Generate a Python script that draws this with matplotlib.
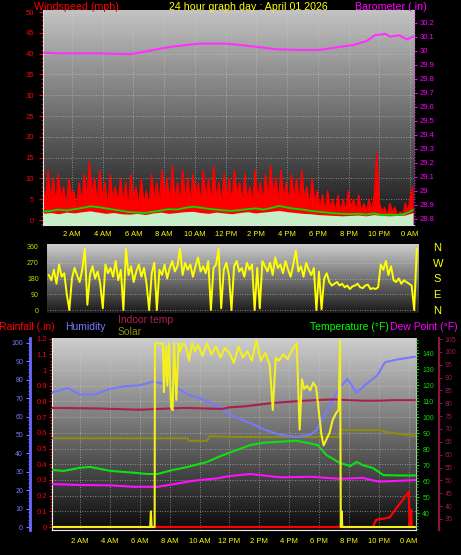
import numpy as np
import matplotlib
matplotlib.use('Agg')
import matplotlib.pyplot as plt
from matplotlib.ticker import MultipleLocator, FuncFormatter

plt.rcParams['font.family'] = ['Liberation Sans', 'DejaVu Sans']

W, H = 461, 555

hour_ticks = [2, 4, 6, 8, 10, 12, 14, 16, 18, 20, 22, 24]
hour_labels = ['2 AM', '4 AM', '6 AM', '8 AM', '10 AM', '12 PM',
               '2 PM', '4 PM', '6 PM', '8 PM', '10 PM', '0 AM']

# wind gust (mph), one value every 10 minutes
gust = [9, 4, 12, 5, 10, 4,  11, 5, 8, 3, 10, 6,  7, 3, 9, 4, 11, 5,
        14, 6, 10, 4, 12, 5,  9, 3, 11, 5, 8, 4,  10, 4, 9, 3, 11, 5,
        8, 3, 10, 4, 7, 3,  11, 5, 9, 4, 12, 6,  10, 4, 13, 5, 9, 4,
        12, 5, 10, 4, 11, 6,  9, 4, 12, 5, 10, 4,  13, 5, 9, 4, 11, 5,
        10, 4, 12, 6, 9, 4,  11, 5, 8, 4, 12, 5,  9, 4, 11, 5, 13, 6,
        10, 4, 12, 5, 9, 4,  11, 5, 10, 4, 12, 5,  8, 3, 10, 4, 7, 3,
        6, 2, 7, 3, 5, 2,  6, 2, 5, 2, 7, 3,  5, 2, 6, 2, 4, 2,
        5, 2, 6, 16, 4, 2,  3, 1, 4, 2, 3, 1,  2, 1, 4, 2, 6, 8]

# average wind (mph), every 30 minutes
wind_avg = [2.0, 2.2, 2.5, 2.3, 2.6, 2.9, 3.3, 3.1, 2.8, 2.5, 2.2, 1.9,
            1.8, 1.7, 2.0, 2.3, 2.6, 2.5, 2.9, 3.2, 3.0, 2.7, 2.5, 2.3,
            2.2, 2.4, 2.6, 2.8, 2.5, 2.9, 3.4, 3.0, 2.7, 2.5, 2.2, 2.0,
            1.8, 1.6, 1.5, 1.4, 1.5, 1.3, 1.6, 1.2, 1.3, 1.2, 1.5, 2.4]

# wind lull (mph), every 30 minutes
wind_lull = [1.6, 1.8, 1.5, 1.9, 1.7, 2.0, 2.2, 1.9, 1.6, 1.8, 1.5, 1.4,
             1.6, 1.3, 1.7, 1.9, 1.6, 1.8, 2.0, 2.1, 1.8, 1.6, 1.9, 1.7,
             1.5, 1.8, 2.0, 1.7, 1.9, 2.1, 2.3, 2.0, 1.8, 1.6, 1.5, 1.3,
             1.2, 1.1, 1.0, 1.1, 1.2, 1.0, 1.3, 1.1, 1.0, 1.1, 1.2, 1.8]

baro_hours = [0.2, 1.4, 3.8, 5.8, 6.6, 7.5, 8.6, 10.3, 12.1, 13.8, 15.3,
              16.8, 18.1, 19.0, 20.3, 21.2, 21.7, 22.4, 22.7, 23.3, 23.8, 24.2]
baro = [29.985, 29.98, 29.98, 29.975, 29.99, 30.01, 30.03, 30.05, 30.05,
        30.03, 30.01, 30.005, 30.005, 30.02, 30.04, 30.07, 30.11, 30.12,
        30.10, 30.11, 30.08, 30.10]

# wind direction (deg), every 10 minutes
direction = [200, 170, 230, 150, 260, 190,  210, 90, 0, 180, 240, 200,
             160, 230, 350, 30, 200, 250,  180, 220, 150, 10, 260, 210,
             240, 190, 280, 170, 230, 0,  350, 200, 250, 160, 220, 260,
             190, 240, 150, 0, 210, 270,  0, 230, 200, 260, 180, 240,
             280, 220, 250, 350, 200, 270,  230, 260, 190, 250, 300, 220,
             250, 210, 280, 0, 240, 260,  350, 10, 230, 270, 200, 0,
             250, 280, 220, 240, 190, 270,  230, 260, 0, 240, 10, 280,
             250, 220, 270, 200, 300, 240,  260, 210, 280, 230, 190, 260,
             340, 220, 250, 190, 270, 230,  200, 240, 0, 220, 5, 180,
             210, 160, 140, 150, 160, 140,  150, 130, 140, 120, 135, 140,
             150, 130, 125, 140, 145, 120,  125, 120, 130, 260, 230, 280,
             200, 250, 170, 160, 180, 150,  170, 160, 150, 140, 0, 350]

hum_hours = [0.1, 1.2, 2.0, 3.0, 4.0, 5.0, 6.0, 6.9, 7.5, 8.2, 9.2, 10.0,
             11.2, 12.0, 13.4, 14.3, 15.4, 16.5, 17.4, 17.8, 18.7, 19.4,
             19.9, 20.5, 21.2, 21.9, 22.4, 23.2, 24.4]
humidity = [73, 75.5, 72, 72, 75, 76.5, 77, 79, 78, 77, 72, 70, 66, 61,
            56.5, 53, 50, 49, 50, 52.5, 66, 76, 80.5, 73, 78, 82.5, 89.5,
            91, 92.5]

indoor_hours = [0.1, 3, 6, 9, 11.5, 12, 13, 14, 15, 16, 17, 18, 19, 20,
                21, 22, 23, 24.4]
indoor_temp = [78.2, 78.0, 77.5, 78.2, 77.8, 78.4, 78.8, 79.5, 80.2, 80.6,
               81.0, 81.3, 81.5, 81.2, 81.0, 81.0, 81.2, 81.2]

temp_hours = [0.2, 0.9, 2.0, 2.7, 4.0, 5.6, 6.5, 7.2, 8.2, 9.2, 10.5, 11.4,
              12.0, 13.4, 14.3, 15.4, 16.5, 17.9, 18.5, 19.4, 20.1, 20.5,
              20.9, 21.6, 22.3, 23.2, 24.4]
temperature = [66.9, 66.3, 68.3, 68.8, 66.4, 65.2, 64.4, 64.4, 66.9, 68.8,
               71.9, 75.6, 77.7, 82.5, 84.0, 84.6, 85.2, 82.5, 76.2, 71.2,
               69.4, 72.0, 70.0, 68.1, 63.7, 63.5, 63.5]

dew_hours = [0.2, 2.0, 4.0, 5.6, 7.2, 8.2, 9.6, 11.2, 12.0, 13.4, 15.4,
             17.4, 19.4, 20.9, 22.0, 24.4]
dew_point = [58.1, 57.5, 57.3, 56.4, 56.4, 57.9, 60.2, 61.7, 63.1, 64.4,
             62.3, 62.7, 61.4, 62.0, 59.6, 60.6]

olive_hours = [0.1, 9.2, 9.3, 10.5, 10.7, 12, 19.3, 19.5, 22.0, 22.5, 24.4]
olive_vals = [48.2, 48.2, 46.9, 46.9, 49.5, 48.9, 48.9, 52.7, 52.7, 51.6, 49.5]

sun_hours = [0.1, 6.70, 6.75, 6.80, 7.00, 7.02, 7.55, 7.62, 7.75, 7.85, 7.95,
             8.10, 8.20, 8.30, 8.45, 8.60, 8.70, 8.85, 9.10, 9.30, 9.50, 9.70,
             9.90, 10.20, 10.50, 10.80, 11.10, 11.40, 11.70, 12.00, 12.30,
             12.60, 12.90, 13.20, 13.50, 13.80, 14.10, 14.40, 14.70, 14.90,
             15.10, 15.30, 15.60, 15.90, 16.20, 16.50, 16.70, 16.85, 17.00,
             17.20, 17.40, 17.60, 17.80, 18.00, 18.15, 18.30, 18.50, 18.70,
             18.90, 19.10, 19.30, 19.40, 19.45, 19.50, 19.55, 19.60, 24.40]
sun = [0, 0, 100, 0, 0, 1170, 1170, 860, 1150, 900, 1170, 760, 745, 1170,
       810, 1170, 1120, 1170, 1150, 1060, 1170, 1120, 1160, 1090, 1170, 1100,
       1150, 1080, 1140, 1110, 1045, 1150, 1080, 1120, 1060, 1190, 1060, 1110,
       1030, 745, 1080, 1060, 1100, 1070, 1130, 1170, 620, 940, 880, 900, 870,
       920, 890, 720, 590, 520, 560, 600, 680, 720, 745, 1190, 0, 100, 0, 0, 0]

rain_hours = [0.1, 21.6, 21.8, 22.7, 24.0, 24.05, 24.15, 24.2, 24.4]
rain = [0, 0, 0.045, 0.06, 0.225, 0.0, 0.11, 0.0, 0.0]


def nice(v, pos=None):
    s = f'{v:.1f}'.rstrip('0').rstrip('.')
    return s


fig = plt.figure(figsize=(W / 100, H / 100), dpi=100, facecolor='black')


def box(x0, y0, x1, y1):
    return fig.add_axes([x0 / W, 1 - y1 / H, (x1 - x0) / W, (y1 - y0) / H])


def shade(ax, top, bottom):
    grad = np.linspace(top, bottom, 256).reshape(-1, 1)
    ax.imshow(grad, cmap='gray', vmin=0, vmax=255, aspect='auto',
              extent=[0, 1, 0, 1], transform=ax.transAxes, zorder=0)


grid_kw = dict(color='#d0d0d0', linestyle=(0, (1, 2)), linewidth=0.6, alpha=0.7)

# ---------------- top panel: wind + barometer ----------------
ax1 = box(43, 10, 414, 225)
shade(ax1, 195, 20)
t_gust = np.linspace(0.1, 24.2, len(gust))
t_half = np.linspace(0.1, 24.2, len(wind_avg))
ax1.fill_between(t_gust, 0, gust, color='#ff0000', lw=0, zorder=2)
ax1.plot(t_gust, gust, color='#ff0000', lw=1.0, zorder=2)
ax1.fill_between(t_half, -1.2, wind_lull, color='#c8f0c8', lw=0, zorder=3)
ax1.plot(t_half, wind_avg, color='#00e000', lw=1.3, zorder=4)
ax1.set_xlim(0.11, 24.26)
ax1.set_ylim(-1.2, 50.5)
ax1.yaxis.set_major_locator(MultipleLocator(5))
ax1.yaxis.set_minor_locator(MultipleLocator(1))
ax1.tick_params(axis='y', which='major', colors='#ff0000', labelsize=5.5,
                length=3, pad=3.5)
ax1.tick_params(axis='y', which='minor', colors='#ff0000', length=1.5)
ax1.set_xticks(hour_ticks, hour_labels)
ax1.tick_params(axis='x', colors='#ffff00', labelsize=5.5, length=0, pad=4.5)
ax1.grid(True, **grid_kw)
for s in ['top', 'right']:
    ax1.spines[s].set_visible(False)
for s in ['left', 'bottom']:
    ax1.spines[s].set_color('#e0e0e0')

ax1b = ax1.twinx()
ax1b.plot(baro_hours, baro, color='#ff30ff', lw=1.5, zorder=5)
ax1b.set_ylim(28.757, 30.29)
ax1b.yaxis.set_major_locator(MultipleLocator(0.1))
ax1b.yaxis.set_minor_locator(MultipleLocator(0.02))
ax1b.yaxis.set_major_formatter(FuncFormatter(nice))
ax1b.tick_params(axis='y', which='major', colors='#ff00ff', labelsize=5.5,
                 length=2, pad=2)
ax1b.tick_params(axis='y', which='minor', colors='#ff00ff', length=1)
for s in ax1b.spines.values():
    s.set_visible(False)

fig.text(76 / W, 1 - 7 / H, 'Windspeed (mph)', color='#ff0000', fontsize=7.7,
         ha='center', va='center')
fig.text(248 / W, 1 - 7 / H, '24 hour graph day : April 01 2026',
         color='#ffff00', fontsize=7.7, ha='center', va='center')
fig.text(391 / W, 1 - 7 / H, 'Barometer (.in)', color='#ff00ff', fontsize=7.7,
         ha='center', va='center')

# ---------------- middle panel: wind direction ----------------
ax2 = box(47, 244, 418, 313)
shade(ax2, 205, 25)
t_dir = np.linspace(0.05, 24.05, len(direction))
ax2.plot(t_dir, direction, color='#ffff00', lw=1.4, zorder=3)
ax2.set_xlim(-0.065, 24.13)
ax2.set_ylim(-17, 377)
ax2.set_yticks([0, 90, 180, 270, 360])
ax2.set_xticks([])
ax2.tick_params(axis='y', colors='#d8d800', labelsize=5, length=0, pad=6)
ax2.grid(True, axis='y', **grid_kw)
for s in ax2.spines.values():
    s.set_visible(False)
ax2b = ax2.twinx()
ax2b.set_ylim(-17, 377)
ax2b.set_yticks([0, 90, 180, 270, 360], ['N', 'E', 'S', 'W', 'N'])
ax2b.tick_params(axis='y', colors='#ffff00', labelsize=8, length=0, pad=11)
for s in ax2b.spines.values():
    s.set_visible(False)

# ---------------- bottom panel ----------------
ax3 = box(52, 338, 416, 530)
shade(ax3, 205, 12)
ax3.set_xlim(0.134, 24.48)
ax3.set_ylim(-0.019, 1.204)
ax3.plot(rain_hours, rain, color='#ff0000', lw=1.6, zorder=3)
ax3.yaxis.set_major_locator(MultipleLocator(0.1))
ax3.yaxis.set_minor_locator(MultipleLocator(0.02))
ax3.yaxis.set_major_formatter(FuncFormatter(nice))
ax3.tick_params(axis='y', which='major', colors='#ff0000', labelsize=5.5,
                length=2.5, pad=1)
ax3.tick_params(axis='y', which='minor', colors='#ff0000', length=1.5)
ax3.set_xticks(hour_ticks, hour_labels)
ax3.tick_params(axis='x', colors='#ffff00', labelsize=5.5, length=0, pad=6)
ax3.grid(True, **grid_kw)
ax3.spines['top'].set_visible(False)
ax3.spines['right'].set_color('#bbbbbb')
ax3.spines['left'].set_color('#f0f0f0')
ax3.spines['bottom'].set_color('#f0f0f0')

ax_h = ax3.twinx()
ax_h.set_ylim(-1.63, 102.7)
ax_h.plot(olive_hours, olive_vals, color='#8c8c10', lw=1.5)
ax_h.plot(hum_hours, humidity, color='#7878ff', lw=1.5)
ax_h.yaxis.set_ticks_position('left')
ax_h.spines['left'].set_position(('axes', -0.0604))
ax_h.spines['left'].set_visible(True)
ax_h.spines['left'].set_color('#6a6aff')
ax_h.spines['left'].set_linewidth(2)
for s in ['top', 'right', 'bottom']:
    ax_h.spines[s].set_visible(False)
ax_h.yaxis.set_major_locator(MultipleLocator(10))
ax_h.yaxis.set_minor_locator(MultipleLocator(2))
ax_h.tick_params(axis='y', which='major', colors='#7878ff', labelsize=5,
                 length=3, pad=2)
ax_h.tick_params(axis='y', which='minor', colors='#7878ff', length=1.5)

ax_d = ax3.twinx()
ax_d.set_ylim(30.7, 105.4)
ax_d.plot(indoor_hours, indoor_temp, color='#a8204c', lw=1.5)
ax_d.spines['right'].set_position(('axes', 1.063))
ax_d.spines['right'].set_color('#8c1840')
ax_d.spines['right'].set_linewidth(1.5)
for s in ['top', 'left', 'bottom']:
    ax_d.spines[s].set_visible(False)
ax_d.yaxis.set_major_locator(MultipleLocator(5))
ax_d.yaxis.set_minor_locator(MultipleLocator(1))
ax_d.tick_params(axis='y', which='major', colors='#8c1840', labelcolor='#9a1a48',
                 labelsize=5, length=2.5, pad=1.5)
ax_d.tick_params(axis='y', which='minor', colors='#8c1840', length=1)

ax_t = ax3.twinx()
ax_t.set_ylim(29.4, 149.4)
ax_t.plot(temp_hours, temperature, color='#10e010', lw=1.5)
ax_t.plot(dew_hours, dew_point, color='#ff10ff', lw=1.5)
for s in ax_t.spines.values():
    s.set_visible(False)
ax_t.yaxis.set_major_locator(MultipleLocator(10))
ax_t.yaxis.set_minor_locator(MultipleLocator(2))
ax_t.set_yticks(range(40, 150, 10))
ax_t.tick_params(axis='y', which='major', colors='#00e000', labelsize=5,
                 length=2.5, pad=2)
ax_t.tick_params(axis='y', which='minor', colors='#00e000', length=1.5)

ax_s = ax3.twinx()
ax_s.set_ylim(-19, 1204)
ax_s.plot(sun_hours, sun, color='#f4f020', lw=1.5)
ax_s.set_yticks([])
for s in ax_s.spines.values():
    s.set_visible(False)

fig.text(27 / W, 1 - 327 / H, 'Rainfall (.in)', color='#ff0000', fontsize=7.5,
         ha='center', va='center')
fig.text(85 / W, 1 - 327 / H, 'Humidity', color='#7878ff', fontsize=7.5,
         ha='center', va='center')
fig.text(118 / W, 1 - 320 / H, 'Indoor temp', color='#b0204c', fontsize=7.5,
         ha='left', va='center')
fig.text(118 / W, 1 - 332 / H, 'Solar', color='#8c8c10', fontsize=7.5,
         ha='left', va='center')
fig.text(349 / W, 1 - 327 / H, 'Temperature (°F)', color='#00ff00',
         fontsize=7.5, ha='center', va='center')
fig.text(424 / W, 1 - 327 / H, 'Dew Point (°F)', color='#ff00ff', fontsize=7.5,
         ha='center', va='center')

fig.savefig('out.png', dpi=100, facecolor='black')
